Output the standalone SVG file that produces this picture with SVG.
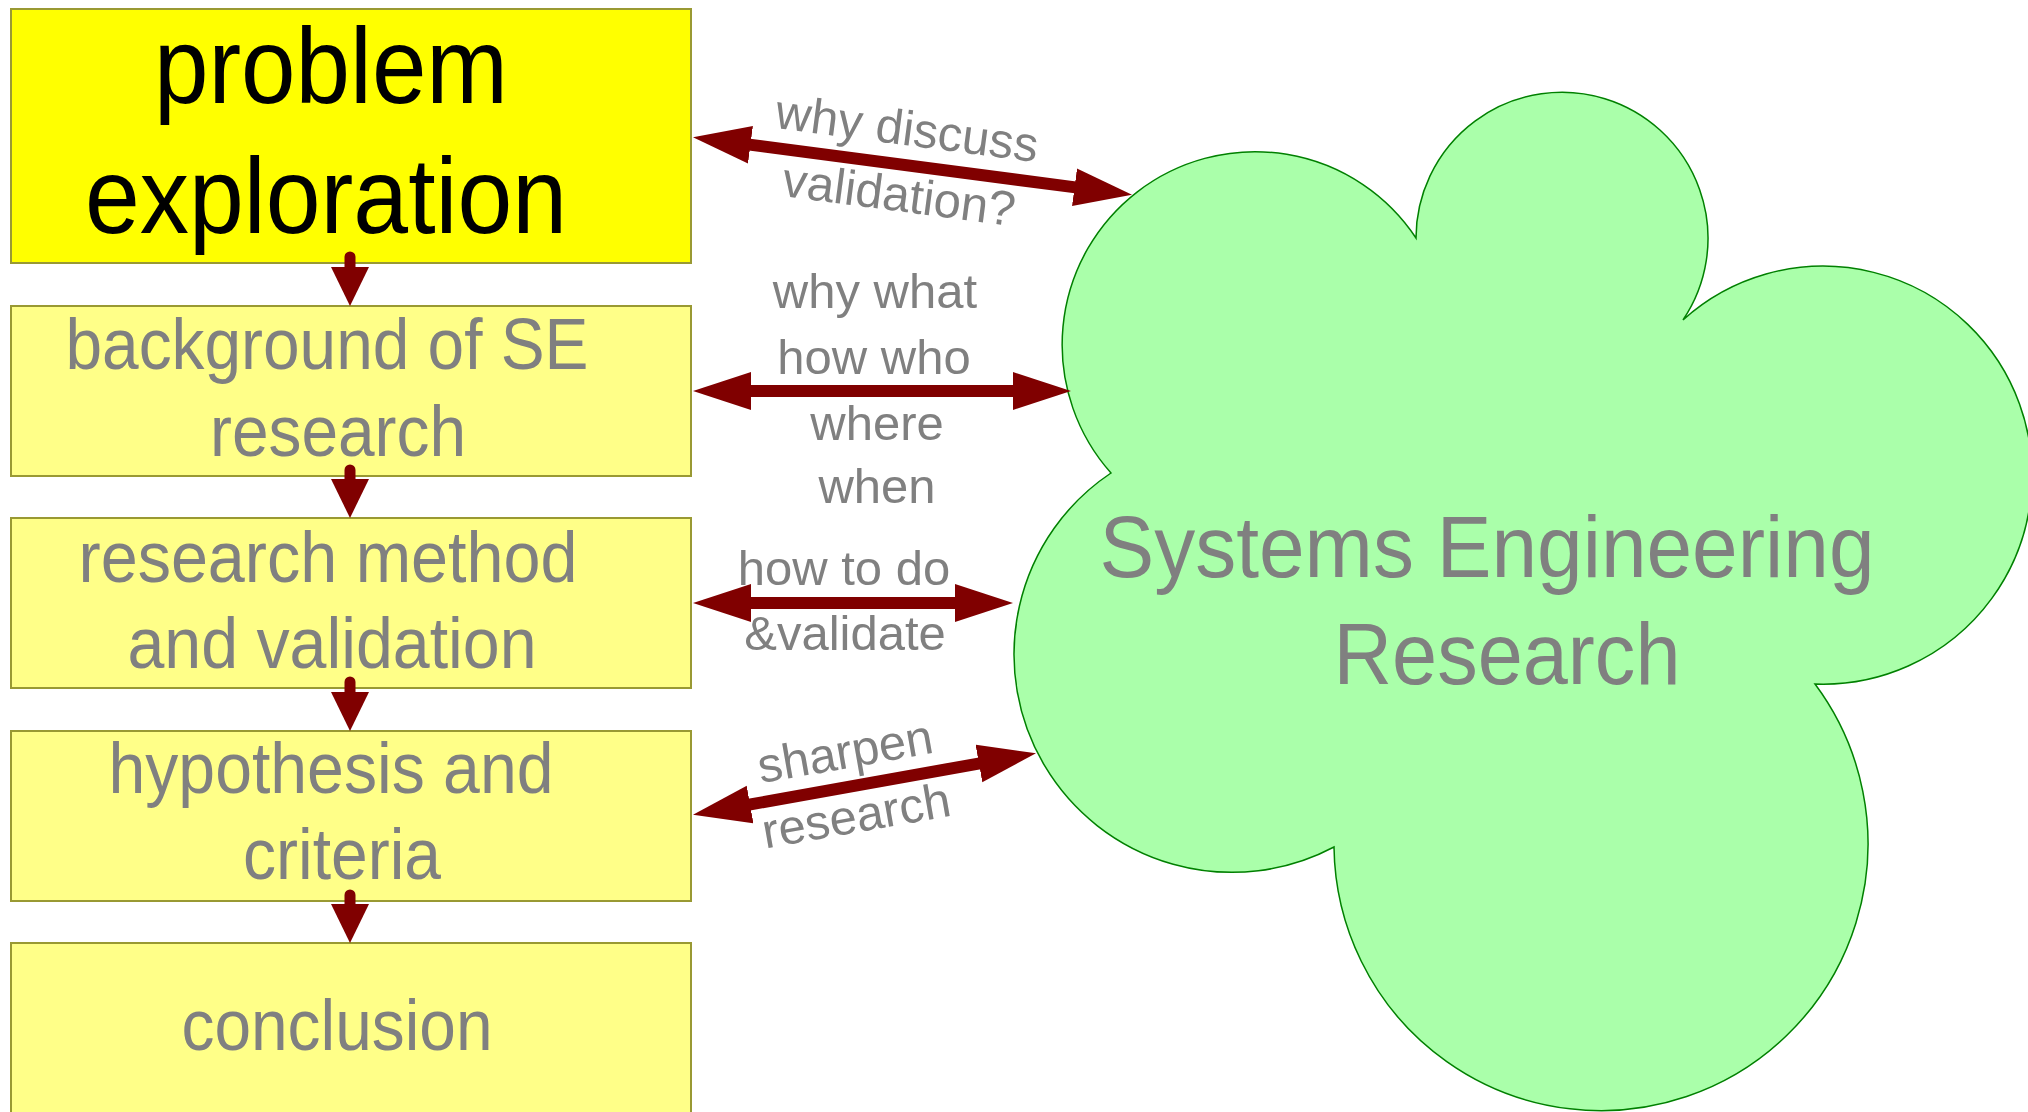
<svg xmlns="http://www.w3.org/2000/svg" width="2028" height="1112" viewBox="0 0 2028 1112">
<style>
.box{fill:#ffff88;stroke:#999933;stroke-width:2}
.box1{fill:#ffff00;stroke:#999933;stroke-width:2}
.btxt{font-family:"Liberation Sans",Arial,sans-serif;font-size:72px;fill:#808080;text-anchor:middle}
.btxt1{font-family:"Liberation Sans",Arial,sans-serif;font-size:108px;fill:#000000;text-anchor:middle}
.ctxt{font-family:"Liberation Sans",Arial,sans-serif;font-size:88px;fill:#808080;text-anchor:middle}
.lbl{font-family:"Liberation Sans",Arial,sans-serif;font-size:49px;fill:#808080;text-anchor:middle}
.bi{stroke:#800000;stroke-width:12;fill:none;marker-start:url(#bi);marker-end:url(#bi)}
.dn{stroke:#800000;stroke-width:11;stroke-linecap:round;fill:none;marker-end:url(#dn)}
</style>
<defs>
<marker id="bi" markerUnits="userSpaceOnUse" markerWidth="60" markerHeight="40" viewBox="0 -20 60 40" refX="1" refY="0" orient="auto-start-reverse">
<path d="M0,-19 L58,0 L0,19 Z" fill="#800000"/>
</marker>
<marker id="dn" markerUnits="userSpaceOnUse" markerWidth="40" markerHeight="40" viewBox="0 -20 40 40" refX="1" refY="0" orient="auto">
<path d="M0,-19 L39,0 L0,19 Z" fill="#800000"/>
</marker>
</defs>

<g id="node-problem">
<rect class="box1" x="11" y="9" width="680" height="254"/>
<text class="btxt1" x="331" y="103" textLength="354" lengthAdjust="spacingAndGlyphs">problem</text>
<text class="btxt1" x="326" y="233" textLength="482" lengthAdjust="spacingAndGlyphs">exploration</text>
</g>
<g id="node-background">
<rect class="box" x="11" y="306" width="680" height="170"/>
<text class="btxt" x="327" y="369" textLength="523" lengthAdjust="spacingAndGlyphs">background of SE</text>
<text class="btxt" x="338" y="456" textLength="256" lengthAdjust="spacingAndGlyphs">research</text>
</g>
<g id="node-method">
<rect class="box" x="11" y="518" width="680" height="170"/>
<text class="btxt" x="328" y="582" textLength="499" lengthAdjust="spacingAndGlyphs">research method</text>
<text class="btxt" x="332" y="668" textLength="409" lengthAdjust="spacingAndGlyphs">and validation</text>
</g>
<g id="node-hypothesis">
<rect class="box" x="11" y="731" width="680" height="170"/>
<text class="btxt" x="331" y="793" textLength="445" lengthAdjust="spacingAndGlyphs">hypothesis and</text>
<text class="btxt" x="342" y="879" textLength="198" lengthAdjust="spacingAndGlyphs">criteria</text>
</g>
<g id="node-conclusion">
<rect class="box" x="11" y="943" width="680" height="180"/>
<text class="btxt" x="337" y="1050" textLength="311" lengthAdjust="spacingAndGlyphs">conclusion</text>
</g>
<g id="node-ser">
<path d="M1111,473 A193,193 0 1 1 1416,238 A146,146 0 1 1 1683,320 A209,209 0 1 1 1815,684 A267,267 0 1 1 1334,847 A218,218 0 0 1 1111,473 Z" fill="#aaffaa" stroke="#008000" stroke-width="1.5"/>
<text class="ctxt" x="1487" y="577" textLength="775" lengthAdjust="spacingAndGlyphs">Systems Engineering</text>
<text class="ctxt" x="1507" y="684" textLength="347" lengthAdjust="spacingAndGlyphs">Research</text>
</g>

<g id="connectors">
<line class="dn" x1="350" y1="257" x2="350" y2="268"/>
<line class="dn" x1="350" y1="470" x2="350" y2="480"/>
<line class="dn" x1="350" y1="682" x2="350" y2="693"/>
<line class="dn" x1="350" y1="895" x2="350" y2="905"/>
<line class="bi" x1="749.5" y1="144.6" x2="1075.5" y2="187.4"/>
<line class="bi" x1="750" y1="391" x2="1014" y2="391"/>
<line class="bi" x1="750" y1="603" x2="956" y2="603"/>
<line class="bi" x1="749.1" y1="804.7" x2="979.9" y2="763.3"/>
</g>

<g id="labels">
<text class="lbl" transform="translate(905,145) rotate(7.5)">why discuss</text>
<text class="lbl" transform="translate(897,211) rotate(7.5)">validation?</text>
<text class="lbl" x="875" y="308">why what</text>
<text class="lbl" x="874" y="374">how who</text>
<text class="lbl" x="877" y="440">where</text>
<text class="lbl" x="877" y="503">when</text>
<text class="lbl" x="844" y="585">how to do</text>
<text class="lbl" x="845" y="650">&amp;validate</text>
<text class="lbl" transform="translate(848,768) rotate(-10)">sharpen</text>
<text class="lbl" transform="translate(859,832) rotate(-10)">research</text>
</g>
</svg>
